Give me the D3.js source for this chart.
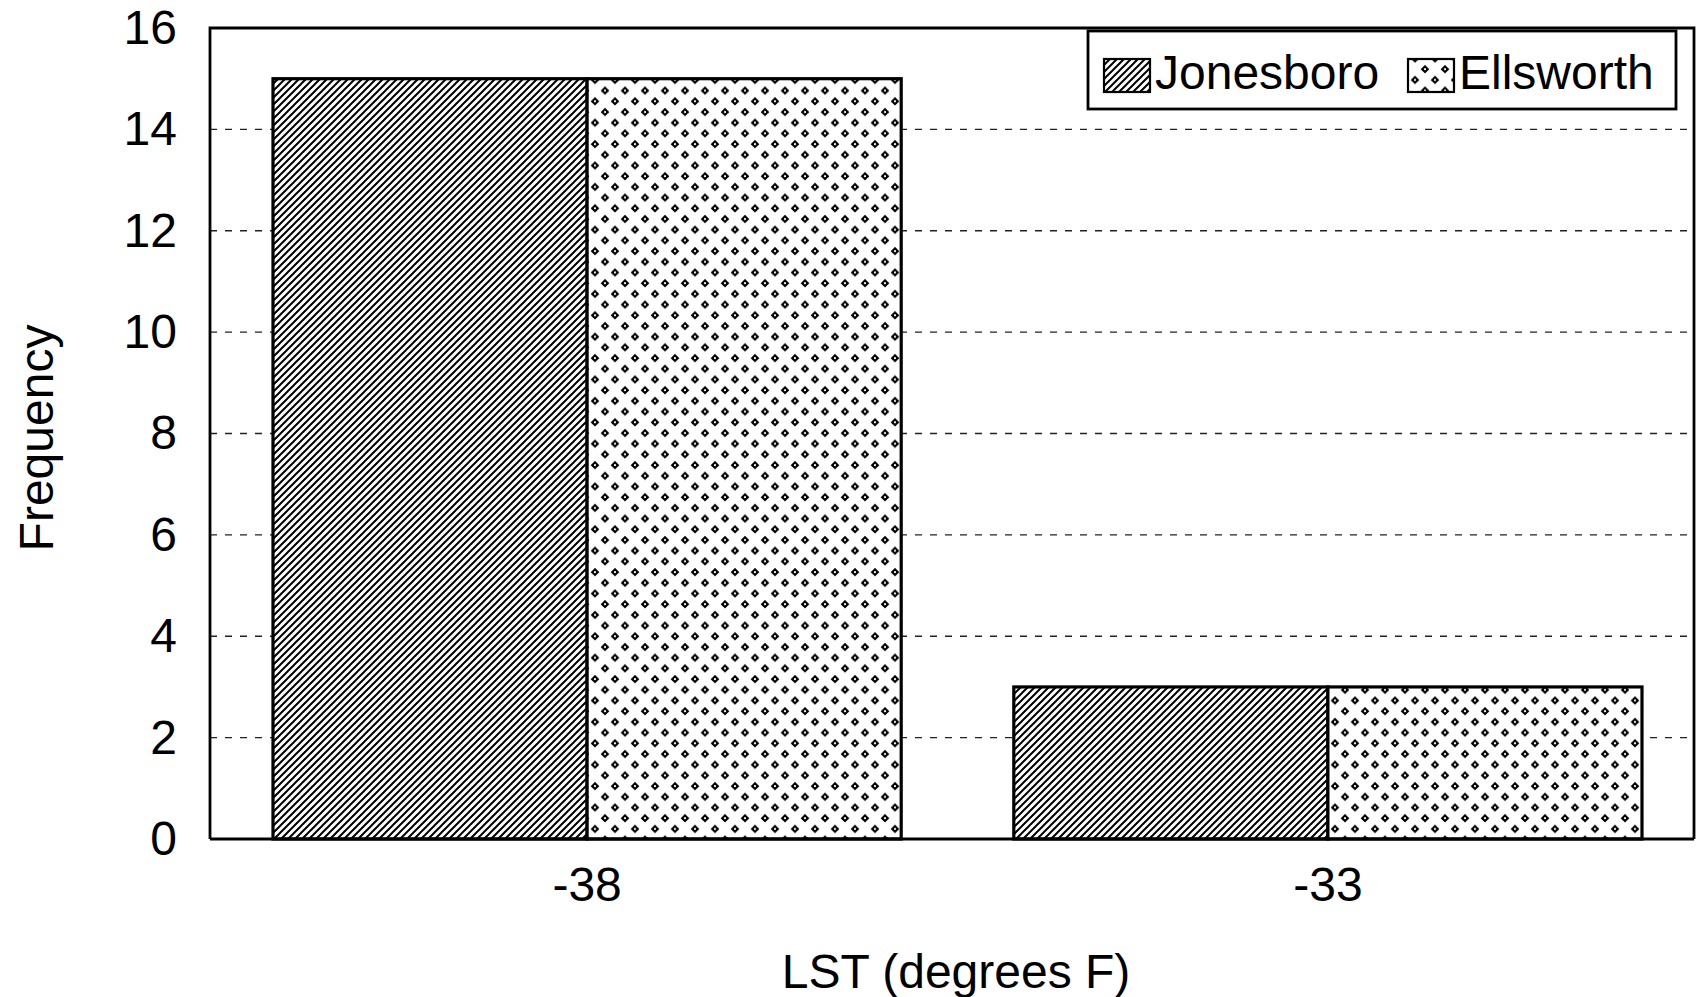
<!DOCTYPE html>
<html><head><meta charset="utf-8">
<script src="https://cdn.jsdelivr.net/npm/d3@7"></script>
<style>
html,body{margin:0;padding:0;background:#fff;}
text{font-family:"Liberation Sans",Arial,sans-serif;fill:#000;}
</style></head>
<body>
<svg id="chart" width="1698" height="997"></svg>
<script>
const categories = ["-38", "-33"];
const seriesNames = ["Jonesboro", "Ellsworth"];
const jonesboro = [15, 3];
const ellsworth = [15, 3];
const yTicks = [0, 2, 4, 6, 8, 10, 12, 14, 16];
const xTitle = "LST (degrees F)";
const yTitle = "Frequency";

const svg = d3.select("#chart");
const M = {left: 210, top: 28, right: 1694, bottom: 839};
const FS = 48;

const defs = svg.append("defs");
// hatch pattern
const hp = defs.append("pattern").attr("id", "hatch").attr("patternUnits", "userSpaceOnUse")
  .attr("width", 7).attr("height", 7);
hp.append("rect").attr("width", 7).attr("height", 7).attr("fill", "#fff");
hp.append("path").attr("d", "M-1,1 l2,-2 M0,7 l7,-7 M6,8 l2,-2")
  .attr("stroke", "#000").attr("stroke-width", 2);
// dot pattern
const dp = defs.append("pattern").attr("id", "dots").attr("patternUnits", "userSpaceOnUse")
  .attr("width", 20).attr("height", 21.4);
dp.append("rect").attr("width", 20).attr("height", 21.4).attr("fill", "#fff");
[[5, 5], [15, 15.7]].forEach(([cx, cy]) => {
  dp.append("path").attr("d", `M${cx},${cy-4.3} L${cx+4.3},${cy} L${cx},${cy+4.3} L${cx-4.3},${cy} Z`)
    .attr("fill", "#000");
  dp.append("circle").attr("cx", cx).attr("cy", cy).attr("r", 1.1).attr("fill", "#fff");
});
const fills = ["url(#hatch)", "url(#dots)"];

const x0 = d3.scaleBand().domain(categories).range([213, 1702]).paddingInner(0.152).paddingOuter(0.081);
const x1 = d3.scaleBand().domain(seriesNames).range([0, x0.bandwidth()]);
const y = d3.scaleLinear().domain([0, 16]).range([M.bottom, M.top]);

// gridlines
svg.append("g").selectAll("line").data(yTicks.filter(t => t > 0 && t < 16)).join("line")
  .attr("x1", M.left).attr("x2", M.right)
  .attr("y1", d => y(d)).attr("y2", d => y(d))
  .attr("stroke", "#222").attr("stroke-width", 1.4).attr("stroke-dasharray", "7,8");

// bars
const data = categories.map((c, i) => ({c, vals: [jonesboro[i], ellsworth[i]]}));
const g = svg.append("g");
data.forEach(d => {
  d.vals.forEach((v, j) => {
    g.append("rect")
      .attr("x", x0(d.c) + x1(seriesNames[j]))
      .attr("y", y(v))
      .attr("width", x1.bandwidth())
      .attr("height", y(0) - y(v))
      .attr("fill", fills[j]).attr("stroke", "#000").attr("stroke-width", 3.2);
  });
});

// frame
svg.append("path")
  .attr("d", `M${M.left},${M.bottom} L${M.left},${M.top} L${M.right},${M.top} L${M.right},${M.bottom}`)
  .attr("fill", "none").attr("stroke", "#000").attr("stroke-width", 2.8);
svg.append("line").attr("x1", M.left).attr("x2", M.right).attr("y1", M.bottom).attr("y2", M.bottom)
  .attr("stroke", "#000").attr("stroke-width", 3.2);

// y axis labels
const yAxis = d3.axisLeft(y).tickValues(yTicks).tickSize(0).tickPadding(33);
const ya = svg.append("g").attr("transform", `translate(${M.left},0)`).call(yAxis);
ya.select(".domain").remove();
ya.selectAll("text").attr("font-size", FS).style("font-family", '"Liberation Sans",Arial,sans-serif').attr("fill", "#000");

// x axis labels
const xAxis = d3.axisBottom(x0).tickSize(0).tickPadding(28);
const xa = svg.append("g").attr("transform", `translate(0,${M.bottom})`).call(xAxis);
xa.select(".domain").remove();
xa.selectAll("text").attr("font-size", FS).style("font-family", '"Liberation Sans",Arial,sans-serif').attr("fill", "#000");

// titles
svg.append("text").attr("x", 956).attr("y", 971).attr("text-anchor", "middle")
  .attr("dominant-baseline", "central").attr("font-size", FS).text(xTitle);
svg.append("text").attr("transform", `translate(36,438) rotate(-90)`).attr("text-anchor", "middle")
  .attr("dominant-baseline", "central").attr("font-size", FS).text(yTitle);

// legend
const lg = svg.append("g");
lg.append("rect").attr("x", 1088).attr("y", 31).attr("width", 588).attr("height", 78)
  .attr("fill", "#fff").attr("stroke", "#000").attr("stroke-width", 2.8);
const legX = [1104, 1408];
seriesNames.forEach((s, j) => {
  lg.append("rect").attr("x", legX[j]).attr("y", 59).attr("width", 46).attr("height", 33)
    .attr("fill", fills[j]).attr("stroke", "#000").attr("stroke-width", 2.2);
  lg.append("text").attr("x", legX[j] + 51).attr("y", 72).attr("dominant-baseline", "central")
    .attr("font-size", FS).text(s);
});
</script>
</body></html>
